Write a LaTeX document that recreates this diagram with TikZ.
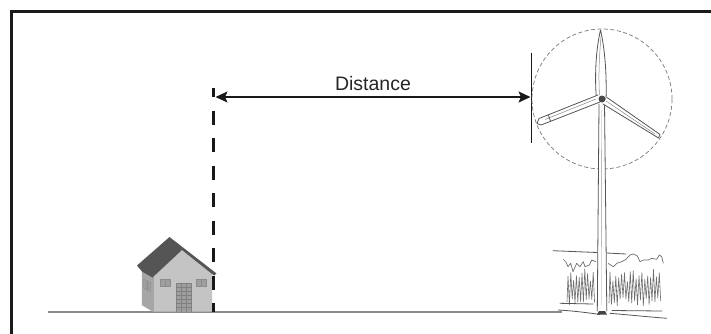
\documentclass[tikz,border=0pt]{standalone}
\usepackage{fontspec}
\setmainfont{Liberation Sans}
\usetikzlibrary{arrows.meta}
\definecolor{framec}{HTML}{1A1A1A}
\definecolor{pencil}{HTML}{555555}
\definecolor{roofc}{HTML}{555555}
\definecolor{frontc}{HTML}{C4C4C4}
\definecolor{sidec}{HTML}{A6A6A6}
\definecolor{winc}{HTML}{9E9E9E}
\definecolor{groundc}{HTML}{8A8A8A}
\begin{document}
\begin{tikzpicture}[x=1pt,y=-1pt,
  sketch/.style={pencil, line width=0.8pt, line join=round, line cap=round},
  grassline/.style={pencil!85, line width=0.6pt, line join=round},
  rotor/.style={pencil!80, line width=0.7pt, dash pattern=on 4pt off 2.5pt},
  dimarrow/.style={line width=1.4pt, draw=black!90,
    {Stealth[length=12pt,width=11pt,inset=2.5pt]}-{Stealth[length=12pt,width=11pt,inset=2.5pt]}},
  setback/.style={line width=3pt, black!90, dash pattern=on 14pt off 13.5pt, dash phase=5pt},
  win/.style={fill=winc, draw=black!45, line width=0.4pt}]
\useasboundingbox (0,0) rectangle (711,333);
\fill[white] (0,0) rectangle (711,333);

% frame (top and left edges)
\draw[framec, line width=3pt] (11.5,340) -- (11.5,11.5) -- (720,11.5);

% ground
\coordinate (g0) at (48,312);
\coordinate (g1) at (562,312);
\draw[groundc, line width=1.2pt] (g0) -- (g1);

% ---------------- house ----------------
% side wall
\fill[sidec] (142,271) -- (153,277) -- (153,311.5) -- (142,305) -- cycle;
\draw[black!35, line width=0.3pt] (142,271) -- (142,305) -- (153,311.5);
% side window (skewed)
\draw[win] (143.7,279) -- (150.5,282.5) -- (150.5,291.5) -- (143.7,288) -- cycle;
\draw[black!45, line width=0.3pt] (147.1,280.8) -- (147.1,289.8);
% front wall with gable
\fill[frontc] (153,277) -- (182,250) -- (212,273) -- (212,311.5) -- (153,311.5) -- cycle;
\draw[black!35, line width=0.3pt] (153,277) -- (153,311.5);
% roof
\fill[roofc] (137,265.5) -- (169.5,237) -- (216.5,273.5) -- (214,275.5)
  -- (182,250) -- (152.5,277.5) -- (142,271.5) -- cycle;
% front windows
\draw[win] (159.7,279) rectangle (169.7,286.5);
\draw[black!45, line width=0.3pt] (164.7,279) -- (164.7,286.5);
\draw[win] (196.3,279) rectangle (206,286.5);
\draw[black!45, line width=0.3pt] (201.1,279) -- (201.1,286.5);
% door with glazing bars
\fill[winc] (176.5,283) rectangle (190.7,311.5);
\foreach \xx in {176.5,181.2,185.9,190.7}
  \draw[black!50, line width=0.4pt] (\xx,283) -- (\xx,311.5);
\foreach \yy in {283,287,291,295,299,303,307}
  \draw[black!50, line width=0.35pt] (176.5,\yy) -- (190.7,\yy);

% ---------------- setback line and distance ----------------
\coordinate (sbTop) at (213,88);
\coordinate (sbBot) at (213,312);
\draw[setback] (sbTop) -- (sbBot);

\coordinate (tickTop) at (531.5,53);
\coordinate (tickBot) at (531.5,143);
\draw[black!90, line width=1.5pt] (tickTop) -- (tickBot);

\coordinate (aL) at (215.5,97);
\coordinate (aR) at (530.5,97);
\draw[dimarrow] (aL) -- (aR);
\node[anchor=base, inner sep=0pt, text=black!85, font=\fontsize{19.5}{22}\selectfont] (lbl) at (373,90) {Distance};

% ---------------- wind turbine (pencil sketch) ----------------
\coordinate (hub) at (602,99);
\draw[rotor] (hub) circle[radius=70pt];

% tower
\fill[white] (599,104) -- (604.5,104) -- (607,311) -- (597,311) -- cycle;
\draw[sketch] (599,104) -- (597.3,311);
\draw[sketch] (604.5,104) -- (606.8,311);
\draw[pencil!60, line width=0.4pt] (601.5,110) -- (601.2,305);

% top blade
\fill[white] (596.5,100) .. controls (594,70) and (597,45) .. (600.5,30)
  .. controls (604,45) and (607,70) .. (606,100) -- cycle;
\draw[sketch] (596.5,100) .. controls (594,70) and (597,45) .. (600.5,30)
  .. controls (604,45) and (607,70) .. (606,100);
\draw[pencil!70, line width=0.5pt] (599.5,95) .. controls (598,70) and (600,50) .. (601,36);
% left blade
\fill[white] (598,95) -- (539,118.5) -- (537,123.5) -- (541,125) -- (600,102) -- cycle;
\draw[sketch] (598,95) -- (539,118.5) -- (537,123.5) -- (541,125) -- (600,102);
\draw[pencil!70, line width=0.5pt] (596,99) -- (545,119.5);
\draw[sketch] (548.5,115.5) -- (550.5,121);
% right blade
\fill[white] (607,97.5) -- (660,134.5) -- (658.5,138) -- (603,104) -- cycle;
\draw[sketch] (607,97.5) -- (660,134.5) -- (658.5,138) -- (603,104);
\draw[pencil!70, line width=0.5pt] (606,101) -- (655,134);
% hub
\fill[pencil!85!black] (hub) circle[radius=3.5pt];

% grass and ground scribbles at the foot of the tower
\pgfmathsetseed{4217}
\draw[sketch] (553,250.7) -- (597,252.5);
\draw[sketch] (607,253) -- (626,254);
\draw[grassline, line width=0.7pt] (563.3,259.3) -- (566,262) -- (568,266.7) -- (570.7,263.3)
  -- (573,271.7) -- (576.7,263.3) -- (580,266.7) -- (583.3,261.7) -- (585,266.7)
  -- (589.3,265) -- (591.7,260) -- (596,261.7);
\draw[grassline, line width=0.7pt] (608,263.3) -- (613.3,266.7) -- (616.7,263.3) -- (621.7,261.7)
  -- (626,259.3) -- (630,255) -- (633.3,254) -- (637.3,256) -- (640,261.7)
  -- (643.3,260) -- (648.3,260) -- (651.7,258.3) -- (656.7,259.3) -- (659.3,255)
  -- (661.7,256.7) -- (663.3,263.3);
\draw[grassline] (567,302) \foreach \k in {0,...,9}
  { -- ({568+2.8*\k},{268+14*rnd}) -- ({569.4+2.8*\k},{298+7*rnd}) };
\draw[grassline] (609,303) \foreach \k in {0,...,17}
  { -- ({610+2.9*\k},{266+16*rnd}) -- ({611.4+2.9*\k},{297+9*rnd}) };
\draw[sketch] (560,303.3) -- (593.3,304);
\draw[sketch] (558.3,310) .. controls (575,311) and (590,313) .. (600,314.5);
\draw[sketch] (610,313.3) .. controls (630,315) and (650,317) .. (666.7,318.3);
\draw[sketch] (612,310.5) -- (662,311);
\fill[pencil!80!black] (597,314.5) -- (607,314.5) -- (605,311) -- (599,311) -- cycle;
\end{tikzpicture}
\end{document}
